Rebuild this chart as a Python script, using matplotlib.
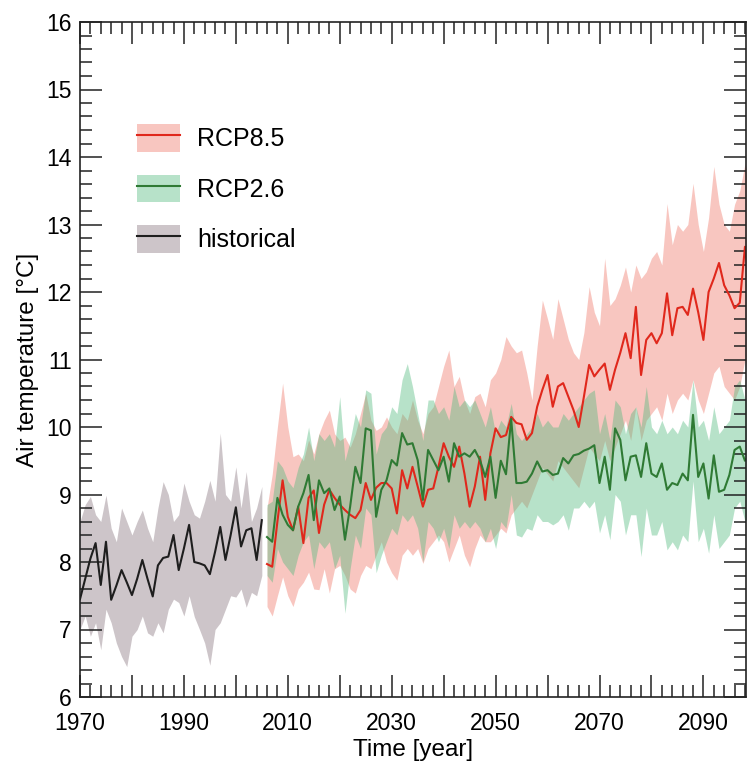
import matplotlib
matplotlib.use("Agg")
import matplotlib.pyplot as plt
import numpy as np
from matplotlib.patches import Patch
from matplotlib.lines import Line2D
from matplotlib.legend_handler import HandlerTuple
from matplotlib.ticker import MultipleLocator, FuncFormatter

plt.rcParams['font.family'] = ['Liberation Sans', 'DejaVu Sans']

## historical run, 1970-2005
hist_years = np.arange(1970, 2006)
hist_mean = [7.45, 7.75, 8.05, 8.28, 7.66, 8.30, 7.44, 7.65, 7.88, 7.70,
             7.51, 7.75, 8.03, 7.75, 7.49, 7.95, 8.06, 8.08, 8.40, 7.88,
             8.20, 8.55, 8.00, 7.98, 7.95, 7.82, 8.15, 8.52, 8.03, 8.40,
             8.81, 8.23, 8.47, 8.50, 8.03, 8.62]
hist_hi = [8.60, 8.85, 8.97, 8.70, 8.60, 8.99, 8.50, 8.30, 8.80, 8.60,
           8.40, 8.60, 8.77, 8.50, 8.30, 8.80, 9.19, 9.00, 8.60, 8.70,
           9.17, 8.90, 8.70, 8.65, 8.90, 9.21, 8.90, 9.91, 9.00, 8.90,
           9.41, 8.80, 9.34, 8.60, 8.80, 9.12]
hist_lo = [7.00, 7.20, 6.90, 7.10, 6.70, 7.30, 7.10, 6.80, 6.60, 6.45,
           6.90, 7.00, 7.20, 6.95, 6.90, 7.10, 6.95, 7.30, 7.45, 7.40,
           7.20, 7.50, 7.19, 7.00, 6.80, 6.47, 7.00, 7.10, 7.30, 7.50,
           7.48, 7.60, 7.33, 7.55, 7.50, 7.80]

## scenarios, 2006-2099
rcp_years = np.arange(2006, 2100)
rcp85_mean = [7.97, 7.93, 8.60, 9.21, 8.67, 8.47, 8.82, 8.28, 8.95, 9.06,
              8.43, 8.85, 9.07, 8.95, 8.85, 8.77, 8.70, 8.65, 8.77, 9.17,
              8.92, 9.10, 9.17, 9.17, 9.09, 8.72, 9.36, 9.09, 9.41, 9.12,
              8.82, 9.07, 9.09, 9.41, 9.76, 9.56, 9.41, 9.71, 9.31, 8.82,
              9.12, 9.56, 8.92, 9.61, 9.98, 9.85, 9.88, 10.15, 10.06, 10.04,
              9.81, 9.91, 10.30, 10.55, 10.77, 10.30, 10.60, 10.65, 10.45, 10.25,
              10.00, 10.45, 10.92, 10.75, 10.85, 10.94, 10.55, 10.85, 11.10, 11.39,
              11.02, 11.78, 10.77, 11.29, 11.39, 11.24, 11.39, 11.98, 11.36, 11.76,
              11.78, 11.66, 12.05, 11.70, 11.29, 12.00, 12.20, 12.43, 12.10, 11.95,
              11.76, 11.84, 12.67, 12.00]
rcp85_hi = [8.80, 9.30, 10.00, 10.65, 10.00, 9.56, 9.60, 9.50, 9.81, 9.60,
            9.90, 10.10, 10.25, 9.90, 9.80, 9.85, 9.70, 9.90, 10.20, 10.50,
            10.10, 9.95, 10.00, 10.15, 10.00, 9.90, 10.20, 10.10, 10.40, 10.10,
            9.90, 10.20, 10.30, 10.60, 10.90, 11.14, 10.60, 10.75, 10.40, 10.20,
            10.45, 10.50, 10.30, 10.70, 10.80, 11.00, 11.34, 11.20, 11.10, 11.14,
            10.80, 10.40, 11.20, 11.88, 11.60, 11.30, 11.90, 11.60, 11.30, 11.10,
            11.00, 11.40, 12.08, 11.70, 11.50, 12.50, 11.80, 11.90, 12.10, 12.37,
            12.00, 12.40, 12.20, 12.30, 12.50, 12.60, 12.40, 13.31, 12.70, 13.00,
            12.90, 13.00, 13.61, 13.00, 12.60, 13.10, 13.86, 13.30, 13.00, 12.90,
            13.30, 13.50, 13.90, 13.60]
rcp85_lo = [7.34, 7.20, 7.50, 7.78, 7.50, 7.34, 7.60, 7.70, 7.85, 7.60,
            7.59, 7.90, 7.54, 7.90, 7.95, 7.80, 7.60, 7.54, 7.80, 7.95,
            7.90, 8.10, 8.30, 8.00, 7.84, 7.73, 8.10, 8.20, 8.10, 8.20,
            7.98, 8.20, 8.30, 8.40, 8.30, 8.00, 8.20, 8.40, 8.10, 7.93,
            8.20, 8.40, 8.30, 8.30, 8.40, 8.50, 8.43, 8.70, 8.80, 8.90,
            8.80, 9.00, 9.20, 9.40, 9.30, 9.20, 9.50, 9.40, 9.30, 9.20,
            9.10, 9.40, 9.70, 9.60, 9.50, 9.80, 9.50, 9.70, 9.90, 10.10,
            9.80, 10.30, 9.80, 10.10, 10.20, 10.30, 10.10, 10.50, 10.20, 10.40,
            10.50, 10.40, 10.70, 10.40, 10.20, 10.50, 10.80, 10.90, 10.60, 10.50,
            10.40, 10.60, 11.00, 10.70]
rcp26_mean = [8.37, 8.30, 8.95, 8.70, 8.55, 8.47, 8.82, 9.02, 9.29, 8.62,
              9.21, 9.02, 9.09, 8.77, 8.97, 8.33, 8.82, 9.41, 9.17, 9.98,
              9.95, 8.67, 9.07, 9.21, 9.51, 9.43, 9.91, 9.74, 9.76, 9.51,
              8.92, 9.66, 9.51, 9.36, 9.56, 9.19, 9.76, 9.56, 9.61, 9.56,
              9.66, 9.51, 9.26, 9.56, 8.95, 9.50, 9.30, 10.12, 9.17, 9.17,
              9.19, 9.31, 9.49, 9.34, 9.36, 9.29, 9.31, 9.54, 9.46, 9.58,
              9.60, 9.65, 9.68, 9.73, 9.17, 9.56, 9.07, 9.98, 9.81, 9.21,
              9.56, 9.58, 9.26, 9.76, 9.31, 9.26, 9.46, 9.07, 9.17, 9.14,
              9.31, 9.21, 10.18, 9.26, 9.46, 8.94, 9.58, 9.04, 9.07, 9.29,
              9.66, 9.71, 9.50, 9.60]
rcp26_hi = [8.85, 8.90, 9.50, 9.40, 9.20, 9.10, 9.40, 9.60, 10.00, 9.50,
            9.90, 9.80, 9.90, 9.70, 10.45, 9.50, 9.80, 10.20, 10.00, 10.55,
            10.50, 9.60, 9.90, 10.00, 10.30, 10.20, 10.70, 10.94, 10.60, 10.20,
            9.80, 10.40, 10.40, 10.20, 10.30, 10.10, 10.60, 10.30, 10.40, 10.30,
            10.40, 10.20, 10.00, 10.30, 9.90, 10.10, 10.00, 10.35, 9.90, 9.80,
            9.90, 10.00, 10.20, 10.00, 10.10, 10.00, 10.00, 10.20, 10.10, 10.20,
            10.30, 10.40, 10.50, 10.55, 9.90, 10.20, 9.80, 10.40, 10.30, 9.90,
            10.20, 10.30, 10.00, 10.60, 10.00, 9.90, 10.10, 9.90, 10.00, 9.90,
            10.10, 10.00, 10.70, 10.00, 10.10, 9.80, 10.30, 9.90, 10.00, 10.10,
            10.60, 10.70, 10.40, 10.50]
rcp26_lo = [7.80, 7.70, 8.20, 8.00, 7.90, 7.80, 8.10, 8.30, 8.40, 7.90,
            8.30, 8.20, 8.30, 7.90, 8.10, 7.24, 7.90, 8.40, 8.20, 8.80,
            8.70, 7.84, 8.10, 8.30, 8.50, 8.40, 8.70, 8.60, 8.70, 8.50,
            8.00, 8.60, 8.50, 8.30, 8.50, 8.20, 8.70, 8.50, 8.60, 8.50,
            8.60, 8.50, 8.30, 8.50, 8.20, 8.60, 8.50, 9.00, 8.40, 8.37,
            8.50, 8.47, 8.70, 8.60, 8.60, 8.55, 8.60, 8.70, 8.47, 8.80,
            8.80, 8.90, 8.80, 8.90, 8.43, 8.70, 8.33, 9.00, 8.90, 8.40,
            8.70, 8.70, 8.08, 8.80, 8.40, 8.40, 8.60, 8.18, 8.30, 8.18,
            8.40, 8.30, 9.20, 8.30, 8.50, 8.13, 8.70, 8.20, 8.30, 8.40,
            8.80, 8.90, 8.60, 8.70]

fig = plt.figure(figsize=(7.5, 7.65), dpi=100)
ax = fig.add_axes([80/750, 68/765, 666/750, 675/765])

## bands
ax.fill_between(hist_years, hist_lo, hist_hi, color='#cdc5c9', lw=0)
ax.fill_between(rcp_years, rcp85_lo, rcp85_hi, color='#f28e82', alpha=0.5, lw=0)
ax.fill_between(rcp_years, rcp26_lo, rcp26_hi, color='#4cb87a', alpha=0.4, lw=0)

## lines
ax.plot(hist_years, hist_mean, color='#1e1e1e', lw=1.5)
ax.plot(rcp_years, rcp85_mean, color='#e0281c', lw=1.5)
ax.plot(rcp_years, rcp26_mean, color='#2f7a34', lw=1.5)

ax.set_xlim(1970, 2098.2)
ax.set_ylim(6, 16)

ax.xaxis.set_major_locator(MultipleLocator(10))
ax.xaxis.set_minor_locator(MultipleLocator(2))
ax.xaxis.set_major_formatter(FuncFormatter(
    lambda v, p: '%d' % round(v) if round(v - 1970) % 20 == 0 else ''))
ax.yaxis.set_major_locator(MultipleLocator(1))
ax.yaxis.set_minor_locator(MultipleLocator(0.2))

ax.tick_params(which='both', direction='in', top=True, right=True,
               width=1.1, color='#222222', labelsize=16.5)
ax.tick_params(which='major', length=15.5)
ax.tick_params(which='minor', length=8.5)
ax.tick_params(axis='x', pad=11)
ax.tick_params(axis='y', pad=6)
for s in ax.spines.values():
    s.set_linewidth(1.2)
    s.set_color('#222222')

ax.set_xlabel('Time [year]', fontsize=17.5, labelpad=3)
ax.set_ylabel('Air temperature [°C]', fontsize=17.5, labelpad=5)

## legend
h85 = (Patch(facecolor='#f28e82', alpha=0.5, lw=0), Line2D([], [], color='#e0281c', lw=1.5))
h26 = (Patch(facecolor='#4cb87a', alpha=0.4, lw=0), Line2D([], [], color='#2f7a34', lw=1.5))
hhi = (Patch(facecolor='#cdc5c9', lw=0), Line2D([], [], color='#1e1e1e', lw=1.5))
ax.legend([h85, h26, hhi], ['RCP8.5', 'RCP2.6', 'historical'],
          handler_map={tuple: HandlerTuple(ndivide=1, pad=0)},
          loc='upper left', bbox_to_anchor=((137-80)/666, 1-(124-22)/675),
          frameon=False, fontsize=18, borderpad=0, borderaxespad=0,
          handlelength=1.72, handleheight=1.32, labelspacing=0.92,
          handletextpad=0.68)

fig.savefig('out.png', dpi=100)
